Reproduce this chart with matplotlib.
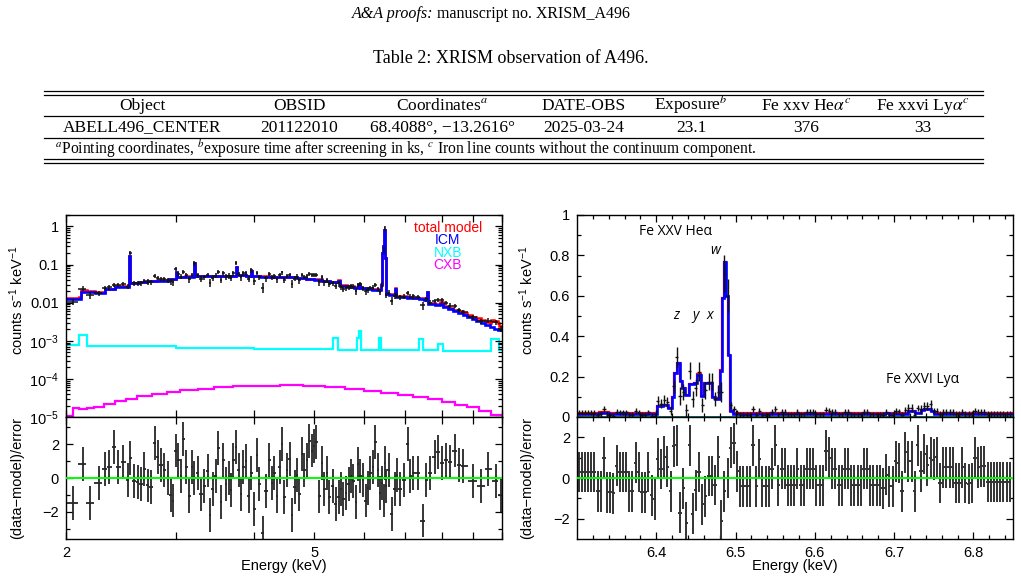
import numpy as np
import matplotlib
matplotlib.use("Agg")
import matplotlib.pyplot as plt
from matplotlib.lines import Line2D
from matplotlib.ticker import FixedLocator, FixedFormatter, NullFormatter, LogLocator

plt.rcParams['font.family'] = ['Liberation Sans', 'DejaVu Sans']
plt.rcParams['mathtext.fontset'] = 'custom'
plt.rcParams['mathtext.rm'] = 'Liberation Sans'
plt.rcParams['mathtext.it'] = 'Liberation Sans:italic'
plt.rcParams['mathtext.bf'] = 'Liberation Sans:bold'

# ------------------------------------------------------------------ data
# table
table_header = ["Object", "OBSID", "Coordinates$^{a}$", "DATE-OBS", "Exposure$^{b}$",
                r"Fe xxv He$\alpha^{c}$", r"Fe xxvi Ly$\alpha^{c}$"]
table_row = ["ABELL496_CENTER", "201122010", "68.4088°, −13.2616°", "2025-03-24",
             "23.1", "376", "33"]
table_note = (r"$^{a}$Pointing coordinates, $^{b}$exposure time after screening in ks, "
              r"$^{c}$ Iron line counts without the continuum component.")

# left panel: broadband spectrum (keV)
left_E = [2.050, 2.127, 2.186, 2.257, 2.313, 2.347, 2.391, 2.421, 2.472, 2.512,
          2.530, 2.574, 2.606, 2.639, 2.671, 2.704, 2.738, 2.779, 2.806, 2.841,
          2.876, 2.912, 2.948, 2.966, 3.003, 3.029, 3.059, 3.085, 3.116, 3.154,
          3.186, 3.213, 3.253, 3.293, 3.334, 3.376, 3.405, 3.438, 3.481, 3.511,
          3.546, 3.576, 3.612, 3.648, 3.680, 3.711, 3.748, 3.785, 3.818, 3.851,
          3.889, 3.927, 3.961, 4.010, 4.045, 4.085, 4.136, 4.187, 4.239, 4.281,
          4.318, 4.355, 4.399, 4.442, 4.480, 4.519, 4.564, 4.609, 4.649, 4.694,
          4.735, 4.782, 4.823, 4.865, 4.913, 4.955, 4.998, 5.036, 5.098, 5.149,
          5.193, 5.238, 5.290, 5.355, 5.422, 5.475, 5.523, 5.570, 5.626, 5.681,
          5.730, 5.780, 5.823, 5.873, 5.924, 5.983, 6.042, 6.094, 6.147, 6.208,
          6.269, 6.323, 6.378, 6.425, 6.457, 6.481, 6.521, 6.585, 6.667, 6.725,
          6.783, 6.851, 6.953, 7.056, 7.127, 7.197, 7.331, 7.468, 7.560, 7.673,
          7.797, 7.903, 8.021, 8.141, 8.262, 8.395, 8.531, 8.656, 8.983, 9.265,
          9.496, 9.792, 9.951]
left_res = [-1.47, 0.82, -1.47, -0.32, 0.51, 0.67, 1.85, 0.67, 0.95, -0.10,
            1.20, -0.19, -0.25, -0.38, 0.51, -0.44, -0.51, 2.04, 1.24, 0.76,
            0.48, 0.00, -1.01, -1.33, 1.62, 1.05, 0.10, 2.29, 0.67, -1.05,
            0.63, 0.00, 0.29, -0.95, -0.48, 0.44, -2.19, -0.67, 0.10, 1.77,
            -1.43, 1.05, -0.38, 0.00, -0.70, 1.05, 1.81, 0.48, -0.95, 0.63,
            1.01, -1.05, 0.29, -1.81, 1.37, -0.38, -3.24, -0.76, 1.05, -0.29,
            0.29, -1.05, 0.67, 2.00, -1.14, 0.48, 1.14, -2.19, -0.51, 0.19,
            -0.95, 1.43, 0.48, 1.05, 2.19, 1.62, 1.90, 2.10, -1.09, 0.86,
            -0.67, 0.29, -1.14, -0.48, -1.52, -1.14, -0.67, -1.24, -0.90, -0.38,
            0.10, -0.19, -1.43, 0.82, 0.10, -0.10, -1.33, -0.57, 0.29, 0.67,
            2.10, 0.48, -0.86, -0.29, -1.33, 0.86, -0.48, 0.48, -2.15, -0.67,
            0.19, -0.63, -0.10, 2.00, 0.10, 0.32, 0.32, -2.51, -0.13, 0.32,
            1.24, 1.52, 0.86, 1.05, 0.95, 1.62, 0.76, 0.70, -0.19, -0.48,
            0.51, -0.19, -1.01]
left_rel_err = 0.15

icm_edges = [2.00, 2.11, 2.23, 2.31, 2.40, 2.527, 2.535, 2.62, 2.70, 2.80,
             2.92, 3.000, 3.010, 3.10, 3.205, 3.218, 3.35, 3.50, 3.62, 3.742,
             3.756, 3.88, 3.955, 3.970, 4.10, 4.25, 4.40, 4.55, 4.70, 4.85,
             5.00, 5.15, 5.30, 5.45, 5.50, 5.65, 5.80, 5.88, 5.93, 6.08,
             6.20, 6.30, 6.40, 6.43, 6.455, 6.47, 6.50, 6.52, 6.60, 6.73,
             6.77, 6.90, 7.05, 7.20, 7.35, 7.50, 7.57, 7.62, 7.80, 7.96,
             8.05, 8.20, 8.35, 8.50, 8.65, 8.80, 8.95, 9.10, 9.25, 9.40,
             9.55, 9.70, 9.85, 10.0]
icm_vals = [0.0127, 0.0195, 0.0180, 0.0222, 0.0262, 0.170, 0.0330, 0.0340, 0.0370, 0.0375,
            0.0420, 0.062, 0.0470, 0.0480, 0.110, 0.0490, 0.0495, 0.0500, 0.0500, 0.085,
            0.053, 0.0500, 0.068, 0.0490, 0.0480, 0.0475, 0.0470, 0.0460, 0.0440, 0.0420,
            0.0400, 0.0370, 0.0345, 0.0380, 0.0280, 0.0265, 0.0250, 0.0290, 0.0240, 0.0230,
            0.0220, 0.0210, 0.030, 0.200, 0.300, 0.800, 0.150, 0.0165, 0.0160, 0.0235,
            0.0145, 0.0140, 0.0135, 0.0130, 0.0125, 0.0120, 0.0190, 0.0090, 0.0086, 0.0095,
            0.0078, 0.0068, 0.0060, 0.0053, 0.0047, 0.0042, 0.0037, 0.0033, 0.0029, 0.0026,
            0.0023, 0.0021, 0.0019]

nxb_edges = [2.00, 2.10, 2.16, 3.00, 4.00, 5.36, 5.46, 5.86, 5.90, 5.95,
             6.35, 6.40, 7.35, 7.48, 7.90, 8.04, 9.60, 9.90, 10.0]
nxb_vals = [7.6e-4, 1.45e-3, 7.2e-4, 6.6e-4, 6.1e-4, 1.15e-3, 5.9e-4, 1.15e-3, 1.8e-3,
            5.8e-4, 1.15e-3, 5.7e-4, 1.1e-3, 5.6e-4, 8.0e-4, 5.5e-4, 1.1e-3, 5.6e-4]

cxb_edges = [2.00, 2.05, 2.10, 2.16, 2.22, 2.30, 2.40, 2.50, 2.60, 2.75,
             2.90, 3.05, 3.25, 3.45, 3.70, 4.00, 4.40, 4.80, 5.20, 5.60,
             6.00, 6.40, 6.80, 7.20, 7.60, 8.00, 8.40, 8.80, 9.20, 9.60, 10.0]
cxb_vals = [1.05e-5, 1.7e-5, 1.6e-5, 1.75e-5, 1.8e-5, 2.2e-5, 2.6e-5, 3.0e-5, 3.5e-5, 4.0e-5,
            4.5e-5, 5.0e-5, 5.5e-5, 6.0e-5, 6.4e-5, 6.7e-5, 6.8e-5, 6.6e-5, 6.0e-5, 5.3e-5,
            4.7e-5, 4.2e-5, 3.7e-5, 3.3e-5, 2.9e-5, 2.5e-5, 2.1e-5, 1.8e-5, 1.45e-5, 1.15e-5]

# right panel: Fe-K zoom
right_icm_edges = [6.300, 6.328, 6.340, 6.401, 6.409, 6.415, 6.4195, 6.4223, 6.4265, 6.4300,
                   6.4330, 6.4366, 6.4418, 6.4470, 6.4519, 6.4560, 6.4601, 6.4702, 6.4743, 6.4804,
                   6.4824, 6.4853, 6.4885, 6.4905, 6.4934, 6.4966, 6.688, 6.694, 6.718, 6.726,
                   6.734, 6.738, 6.746, 6.750, 6.850]
right_icm_vals = [0.017, 0.022, 0.017, 0.055, 0.058, 0.046, 0.10, 0.218, 0.268, 0.18,
                  0.145, 0.107, 0.162, 0.17, 0.21, 0.102, 0.17, 0.10, 0.091, 0.23,
                  0.59, 0.768, 0.60, 0.306, 0.03, 0.017, 0.021, 0.017, 0.029, 0.020,
                  0.033, 0.041, 0.030, 0.017]
right_chan_start = 6.300   # keV, first channel lower edge
right_chan_width = 0.004   # keV per plotted channel
count_unit = 0.0108        # counts s^-1 keV^-1 for one count in one channel
right_res = [0.3, 0.3, 0.3, 0.3, 0.3, 0.3,
             -0.65, -0.65, 1.0, -0.7, -0.7, -0.75,
             0.6, 0.3, 0.3, 0.3, -0.65, -0.65,
             0.75, 0.3, -0.7, -0.7, 0.3, -0.85, -1.05,
             0.95, 0.45, 1.05, 0.55, -0.65, 1.55, 1.6, -1.7, -0.5, -2.2,
             1.6, -1.75, -0.6, 0.3, -1.3, -0.9, 0.1, 0.1, -0.35, 1.05,
             -2.1, -0.65, 0.0, 1.5, 1.7,
             0.33, -0.41, -0.41, -0.41, -0.41, 1.6, -0.41, 0.93, -0.41, -0.41,
             -0.41, 0.46, 1.6, -0.36, 0.46, 0.46, -0.36, -0.36, -0.36, 0.46,
             -0.36, -0.36, 0.46, 0.46, 0.46, -0.36, -0.36, -0.36, 1.34, 1.0,
             0.46, 0.46, -0.36, -0.36, 0.46, 0.46, -0.36, -0.36, -0.36, -0.36,
             0.46, 0.46, -0.36, -0.36, -0.36, -0.36, -0.5, 0.16, -0.41, -0.41,
             0.82, 0.74, -0.65, 1.26, 0.82, 0.82, -0.65, 1.6, 0.33, 1.18,
             0.62, 1.0, 0.9, 1.03, -0.25, 0.52, 0.52, 0.52, 0.52, -0.25,
             -0.25, 0.52, -0.25, -0.3, -0.25, 1.0, 0.52, 0.57, 0.57, -0.2,
             -0.2, -0.2, -0.2, -0.2, -0.2, -0.2, -0.2]

left_yticks = [1e-5, 1e-4, 1e-3, 1e-2, 1e-1, 1]
left_yticklabels = ["$10^{-5}$", "$10^{-4}$", "$10^{-3}$", "0.01", "0.1", "1"]
left_xticks = [2, 3, 4, 5, 6, 7, 8, 9, 10]
left_xticklabels = ["2", "", "", "5", "", "", "", "", ""]
legend_items = [("total model", "#ff0000"), ("ICM", "#0000ff"),
                ("NXB", "#00ffff"), ("CXB", "#ff00ff")]

# ------------------------------------------------------------------ helpers
W, H = 1021, 582
fig = plt.figure(figsize=(W / 100, H / 100), dpi=100)
serif = ['Liberation Serif', 'DejaVu Serif']


def ftx(x, y, s, **kw):
    kw.setdefault('ha', 'center')
    kw.setdefault('va', 'center')
    return fig.text(x / W, 1 - y / H, s, **kw)


def hline(y, x0=44, x1=983, lw=0.9):
    fig.add_artist(Line2D([x0 / W, x1 / W], [1 - y / H, 1 - y / H],
                          transform=fig.transFigure, color='k', lw=lw))


def step_at(edges, vals, x):
    edges = np.asarray(edges)
    idx = np.clip(np.searchsorted(edges, x, side='right') - 1, 0, len(vals) - 1)
    return np.asarray(vals)[idx]


def axes_px(x0, y0, x1, y1):
    return fig.add_axes([x0 / W, 1 - y1 / H, (x1 - x0) / W, (y1 - y0) / H])


def style(ax):
    ax.tick_params(which='both', direction='in', top=True, right=True,
                   labelsize=10.5, pad=5, width=0.9)
    ax.tick_params(which='major', length=5)
    ax.tick_params(which='minor', length=3)
    for s in ax.spines.values():
        s.set_linewidth(1.0)


# ------------------------------------------------------------------ header & table
ftx(433, 18.5, "A&A proofs:", family=serif, style='italic', fontsize=11.5,
    ha='right', va='baseline')
ftx(437, 18.5, "manuscript no. XRISM_A496", family=serif, fontsize=11.5,
    ha='left', va='baseline')
ftx(511, 63, "Table 2: XRISM observation of A496.", family=serif, fontsize=13,
    va='baseline')

hline(91)
hline(94.5)
hline(116)
hline(137.5)
hline(159)
hline(162.5)

col_x = [142, 299, 442, 584, 691, 806, 923]
for x, s in zip(col_x, table_header):
    ftx(x, 110, s, family=serif, fontsize=12.5, math_fontfamily='stix', va='baseline')
for x, s in zip(col_x, table_row):
    ftx(x, 131.5, s, family=serif, fontsize=12.5, math_fontfamily='stix', va='baseline')
ftx(55, 153, table_note, family=serif, fontsize=11.2, ha='left', va='baseline',
    math_fontfamily='stix')

# ------------------------------------------------------------------ left panel
axLt = axes_px(66, 215, 502, 417)
axLb = axes_px(66, 417, 502, 539)

grid_L = np.unique(np.concatenate([icm_edges, nxb_edges, cxb_edges]))
mid_L = 0.5 * (grid_L[1:] + grid_L[:-1])
tot_L = (step_at(icm_edges, icm_vals, mid_L) + step_at(nxb_edges, nxb_vals, mid_L)
         + step_at(cxb_edges, cxb_vals, mid_L))

E = np.array(left_E)
r = np.array(left_res)
mids = np.sqrt(E[1:] * E[:-1])
lo = np.concatenate([[2.0], mids])
hi = np.concatenate([mids, [10.0]])
tot_at = step_at(grid_L, tot_L, E)
err = left_rel_err * tot_at
data = tot_at + r * err

axLt.stairs(cxb_vals, cxb_edges, color='#ff00ff', lw=1.6, baseline=None)
axLt.stairs(nxb_vals, nxb_edges, color='#00ffff', lw=1.6, baseline=None)
axLt.errorbar(E, data, xerr=[E - lo, hi - E], yerr=err, fmt='none',
              ecolor='#111111', elinewidth=1.1, capsize=0)
axLt.stairs(tot_L, grid_L, color='#ff0000', lw=1.8, baseline=None)
axLt.stairs(icm_vals, icm_edges, color='#0000ff', lw=1.9, baseline=None)

axLt.set_yscale('log')
axLt.set_ylim(1e-5, 2.0)
for ax in (axLt, axLb):
    ax.set_xscale('log')
    ax.set_xlim(2, 10)
    ax.xaxis.set_major_locator(FixedLocator(left_xticks))
    ax.xaxis.set_major_formatter(FixedFormatter(left_xticklabels))
    ax.xaxis.set_minor_locator(FixedLocator([]))
    style(ax)
axLt.yaxis.set_major_locator(FixedLocator(left_yticks))
axLt.yaxis.set_major_formatter(FixedFormatter(left_yticklabels))
axLt.yaxis.set_minor_locator(LogLocator(base=10, subs=np.arange(2, 10)))
axLt.yaxis.set_minor_formatter(NullFormatter())
axLt.tick_params(labelbottom=False)

for i, (s, c) in enumerate(legend_items):
    axLt.text(0.876, 0.938 - 0.0625 * i, s, color=c, fontsize=10,
              ha='center', va='center', transform=axLt.transAxes)

axLb.errorbar(E, r, xerr=[E - lo, hi - E], yerr=1.0, fmt='none',
              ecolor='#262626', elinewidth=1.3, capsize=0)
axLb.axhline(0, color='#00ff00', lw=1.4, zorder=3)
axLb.set_ylim(-3.6, 3.6)
axLb.yaxis.set_major_locator(FixedLocator([-2, 0, 2]))
axLb.yaxis.set_minor_locator(FixedLocator([-3, -1, 1, 3]))
axLb.set_yticklabels(["\u22122", "0", "2"])

# ------------------------------------------------------------------ right panel
axRt = axes_px(577, 215, 1013, 417)
axRb = axes_px(577, 417, 1013, 539)

grid_R = np.unique(np.concatenate([right_icm_edges, nxb_edges, cxb_edges]))
mid_R = 0.5 * (grid_R[1:] + grid_R[:-1])
nxb_R = step_at(nxb_edges, nxb_vals, mid_R)
cxb_R = step_at(cxb_edges, cxb_vals, mid_R)
tot_R = step_at(right_icm_edges, right_icm_vals, mid_R) + nxb_R + cxb_R

rr = np.array(right_res)
ch_E = right_chan_start + right_chan_width * (np.arange(len(rr)) + 0.5)
tot_ch = step_at(grid_R, tot_R, ch_E)
err_ch = np.sqrt(tot_ch * count_unit)
data_ch = tot_ch + rr * err_ch

axRt.stairs(cxb_R, grid_R, color='#80c0ff', lw=1.0, ls=':', baseline=None)
axRt.stairs(nxb_R, grid_R, color='#008b8b', lw=1.4, baseline=None)
axRt.errorbar(ch_E, data_ch, xerr=right_chan_width / 2, yerr=err_ch, fmt='none',
              ecolor='#111111', elinewidth=1.0, capsize=0)
axRt.stairs(tot_R, grid_R, color='#ff0000', lw=1.6, baseline=None)
axRt.stairs(right_icm_vals, right_icm_edges, color='#0000ff', lw=1.9, baseline=None)

for ax in (axRt, axRb):
    ax.set_xlim(6.3, 6.85)
    ax.xaxis.set_major_locator(FixedLocator([6.4, 6.5, 6.6, 6.7, 6.8]))
    ax.xaxis.set_minor_locator(FixedLocator([6.32, 6.34, 6.36, 6.38, 6.42, 6.44, 6.46, 6.48,
                                             6.52, 6.54, 6.56, 6.58, 6.62, 6.64, 6.66, 6.68,
                                             6.72, 6.74, 6.76, 6.78, 6.82, 6.84]))
    style(ax)
axRt.tick_params(labelbottom=False)
axRt.set_ylim(0, 1.0)
axRt.yaxis.set_major_locator(FixedLocator([0, 0.2, 0.4, 0.6, 0.8, 1.0]))
axRt.set_yticklabels(["0", "0.2", "0.4", "0.6", "0.8", "1"])
axRt.yaxis.set_minor_locator(FixedLocator([0.1, 0.3, 0.5, 0.7, 0.9]))

ann = ['Open Sans', 'DejaVu Sans']
axRt.text(6.4247, 0.916, "Fe XXV He\u03b1", family=ann, fontsize=10, ha='center', va='center')
axRt.text(6.4747, 0.823, "w", family=ann, style='italic', fontsize=10, ha='center', va='center')
axRt.text(6.4247, 0.504, "z", family=ann, style='italic', fontsize=10, ha='center', va='center')
axRt.text(6.4490, 0.504, "y", family=ann, style='italic', fontsize=10, ha='center', va='center')
axRt.text(6.4674, 0.504, "x", family=ann, style='italic', fontsize=10, ha='center', va='center')
axRt.text(6.7355, 0.187, "Fe XXVI Ly\u03b1", family=ann, fontsize=10, ha='center', va='center')

axRb.errorbar(ch_E, rr, xerr=right_chan_width / 2, yerr=1.0, fmt='none',
              ecolor='#333333', elinewidth=1.4, capsize=0)
axRb.axhline(0, color='#00ff00', lw=1.4, zorder=3)
axRb.set_ylim(-3, 3)
axRb.yaxis.set_major_locator(FixedLocator([-2, 0, 2]))
axRb.yaxis.set_minor_locator(FixedLocator([-1, 1]))
axRb.set_yticklabels(["\u22122", "0", "2"])

# ------------------------------------------------------------------ axis labels
lab = dict(fontsize=10.5, rotation=90)
ftx(17, 300, "counts s$^{-1}$ keV$^{-1}$", **lab)
ftx(17, 478, "(data\u2212model)/error", **lab)
ftx(527, 300, "counts s$^{-1}$ keV$^{-1}$", **lab)
ftx(527, 478, "(data\u2212model)/error", **lab)
ftx(284, 566, "Energy (keV)", fontsize=10.5)
ftx(795, 566, "Energy (keV)", fontsize=10.5)

fig.savefig("out.png", dpi=100)
